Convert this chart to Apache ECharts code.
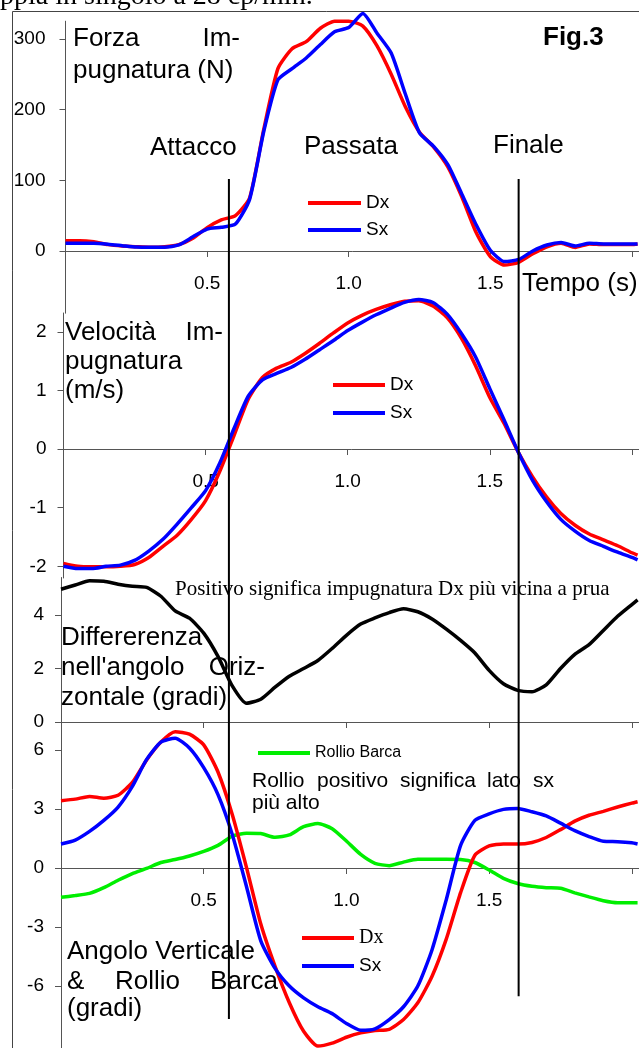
<!DOCTYPE html>
<html><head><meta charset="utf-8">
<script src="https://cdn.jsdelivr.net/npm/echarts@6/dist/echarts.min.js"></script>
<style>html,body{margin:0;padding:0;background:#fff;overflow:hidden}#c{width:639px;height:1048px}</style>
</head><body><div id="c"></div>
<script>
// ---- data ----
const time = [0,0.05,0.1,0.15,0.2,0.25,0.3,0.35,0.4,0.45,0.5,0.55,0.6,0.65,0.7,0.75,0.8,0.85,0.9,0.95,1.0,1.05,1.1,1.15,1.2,1.25,1.3,1.35,1.4,1.45,1.5,1.55,1.6,1.65,1.7,1.75,1.8,1.85,1.9,1.95,2.0,2.02];
const forceDx = [14.6,14.6,13,9,7,6,5.2,6,9,18,33,44,50,75,172,258,286,296,315,325,325,318,290,250,204,168,147,119,76,26,-8,-20,-16,-4,6,11,5,10,9,9,9,10];
const forceSx = [10.8,10.8,10.8,9.5,7.5,5.5,5.2,5.2,8.5,20,31,33.5,38,73,169,242,258,273,292,310,316,336,308,280,222,167,148,122,80,37,1,-15,-12,0,8.5,12,7,11,10,10,10,10];
const velDx = [-1.95,-2.0,-2.01,-2.01,-2.0,-1.97,-1.85,-1.66,-1.47,-1.2,-0.88,-0.38,0.23,0.85,1.22,1.38,1.48,1.63,1.80,1.98,2.15,2.28,2.38,2.46,2.52,2.53,2.44,2.24,1.89,1.42,0.88,0.44,-0.05,-0.47,-0.82,-1.1,-1.3,-1.45,-1.55,-1.65,-1.77,-1.81];
const velSx = [-2.0,-2.04,-2.04,-2.0,-1.98,-1.9,-1.74,-1.54,-1.28,-1.0,-0.71,-0.24,0.35,0.9,1.18,1.29,1.39,1.53,1.69,1.85,2.02,2.16,2.29,2.4,2.5,2.55,2.5,2.3,1.97,1.57,1.03,0.5,-0.05,-0.53,-0.9,-1.2,-1.4,-1.56,-1.66,-1.76,-1.85,-1.89];
const diffH = [4.96,5.12,5.28,5.26,5.15,5.07,5.03,4.7,4.15,3.88,3.32,2.45,1.35,0.7,0.85,1.3,1.71,2.0,2.3,2.75,3.24,3.66,3.89,4.09,4.23,4.12,3.85,3.47,3.05,2.58,1.93,1.43,1.18,1.13,1.39,2.0,2.53,2.89,3.42,3.95,4.39,4.56];
const angDx = [3.42,3.5,3.64,3.55,3.7,4.35,5.49,6.4,6.93,6.8,6.26,4.88,2.72,0.02,-2.85,-5.0,-6.85,-8.3,-9.05,-8.9,-8.6,-8.38,-8.26,-8.2,-7.7,-6.85,-5.5,-3.6,-1.25,0.65,1.12,1.22,1.22,1.3,1.55,1.95,2.38,2.68,2.88,3.1,3.3,3.37];
const angSx = [1.22,1.42,1.86,2.42,3.1,4.15,5.52,6.4,6.6,6.1,5.1,3.73,1.7,-0.95,-3.7,-5.1,-6.0,-6.6,-7.05,-7.4,-7.9,-8.25,-8.17,-7.7,-7.05,-6.0,-4.15,-1.6,1.15,2.42,2.75,2.98,3.03,2.86,2.65,2.28,1.9,1.6,1.36,1.34,1.28,1.22];
const rollBarca = [-1.49,-1.4,-1.29,-1.0,-0.62,-0.28,-0.02,0.28,0.43,0.61,0.84,1.15,1.62,1.77,1.75,1.56,1.68,2.1,2.26,2.0,1.37,0.69,0.24,0.12,0.3,0.44,0.44,0.44,0.43,0.28,-0.1,-0.53,-0.79,-0.93,-1.0,-1.03,-1.26,-1.47,-1.66,-1.76,-1.76,-1.76];

const forceTicks = [0,100,200,300];
const velTicks = [-2,-1,0,1,2];
const diffTicks = [0,2,4];
const angTicks = [-6,-3,0,3,6];
const timeTicks = [0.5,1.0,1.5,2.0];
const timeLabels = [0.5,1.0,1.5];
const phaseNames = ['Attacco','Finale'];
const phaseTimes = [0.577,1.6];
const phaseLineStart = [0,0.027];   // lower end of the phase lines (fraction of overlay height)

// ---- helpers ----
const SANS = "'Liberation Sans', Arial, sans-serif";
const SERIF = "'Liberation Serif', 'Times New Roman', serif";
const AX = '#555';
const pair = ys => time.map((t,i)=>[t, ys[i]]);

const grids = [
  {left:65.5, right:0, top:21.2, height:292},
  {left:63.5, right:0, top:313, height:265},
  {left:61, right:0, top:577.5, height:144.5},
  {left:61, right:0, top:722, height:330},
  {left:65.5, right:0, top:179, height:840}
].map(g=>Object.assign(g,{containLabel:false, outerBoundsMode:'none', show:false}));
const yRanges = [[-88,325],[-2.2,2.32],[0,5.4],[-9.35,7.42]];
// distance from grid bottom up to the zero line (x axis sits on y = 0)
const zeroShift = gi => { const g = grids[gi], r = yRanges[gi]; return -(g.height * (0 - r[0]) / (r[1]-r[0])); };

function xAx(gi, showLabels){
  return {type:'value', gridIndex:gi, min:0, max:2.025, position:'bottom', offset: zeroShift(gi),
    axisLine:{show:true, onZero:false, lineStyle:{color:AX, width:1}},
    axisTick:{show:true, inside:false, length:6, customValues:timeTicks, lineStyle:{color:AX}},
    axisLabel:{show:showLabels, customValues:timeLabels, formatter:v=>Number(v).toFixed(1),
      margin:23, color:'#000', fontSize:19, fontFamily:SANS},
    splitLine:{show:false}};
}
function yAx(gi, ticks, margin){
  return {type:'value', gridIndex:gi, min:yRanges[gi][0], max:yRanges[gi][1],
    axisLine:{show:true, onZero:false, lineStyle:{color:AX, width:1}},
    axisTick:{show:true, length:6, customValues:ticks, lineStyle:{color:AX}},
    axisLabel:{customValues:ticks, margin, color:'#000', fontSize:19, fontFamily:SANS},
    splitLine:{show:false}};
}
function ser(name, gi, ys, color, width){
  return {type:'line', name, xAxisIndex:gi, yAxisIndex:gi, data:pair(ys), symbol:'none', showSymbol:false,
    smooth:0.2, clip:false, lineStyle:{color, width}, itemStyle:{color}, z:3, silent:true};
}
function txt(text, x, baseline, o={}){
  const fs = o.size || 26;
  const font = (o.bold ? 'bold ' : '') + fs + 'px ' + (o.serif ? SERIF : SANS);
  const al = o.align || 'left';
  return {type:'text', z:20, silent:true,
    style:{text, x, y: baseline - 0.34*fs, font, fill:'#000',
      align:al, textAlign:al, verticalAlign:'middle', textVerticalAlign:'middle'}};
}

const legendText = {fontSize:19, fontFamily:SANS, color:'#000', lineHeight:20};
const legBase = {orient:'vertical', icon:'rect', itemHeight:4, padding:0, selectedMode:false, textStyle:legendText};

const option = {
  animation:false,
  backgroundColor:'#fff',
  grid: grids,
  xAxis:[xAx(0,true), xAx(1,true), xAx(2,false), xAx(3,true),
    {type:'value', gridIndex:4, min:0, max:2.025, show:false}],
  yAxis:[yAx(0,forceTicks,20), yAx(1,velTicks,17), yAx(2,diffTicks,17), yAx(3,angTicks,17),
    {type:'value', gridIndex:4, min:0, max:1, show:false}],
  legend:[
    Object.assign({}, legBase, {data:['Dx','Sx'], left:308, top:193, itemWidth:53, itemGap:7}),
    Object.assign({}, legBase, {data:['Dx','Sx'], left:333, top:375, itemWidth:52, itemGap:8}),
    Object.assign({}, legBase, {data:['Rollio Barca'], left:258, top:743, itemWidth:52,
      textStyle:{fontSize:16, fontFamily:SANS, color:'#000', lineHeight:20}}),
    Object.assign({}, legBase, {data:['Dx','Sx'], left:302, top:928, itemWidth:52, itemGap:8,
      formatter: n => n==='Dx' ? '{s|Dx}' : '{a|Sx}',
      textStyle:{color:'#000', lineHeight:20, rich:{
        s:{fontFamily:SERIF, fontSize:20, lineHeight:20, color:'#000'},
        a:{fontFamily:SANS, fontSize:19, lineHeight:20, color:'#000'}}}})
  ],
  series:[
    ser('Dx',0,forceDx,'#ff0000',3.5), ser('Sx',0,forceSx,'#0000ff',3.5),
    ser('Dx',1,velDx,'#ff0000',3.5), ser('Sx',1,velSx,'#0000ff',3.5),
    ser('Diff',2,diffH,'#000000',3.5),
    ser('Rollio Barca',3,rollBarca,'#00ee00',3.5),
    ser('Dx',3,angDx,'#ff0000',3.5), ser('Sx',3,angSx,'#0000ff',3.5)
  ].concat(phaseTimes.map((t,i)=>({type:'line', name:phaseNames[i], xAxisIndex:4, yAxisIndex:4,
      data:[[t,phaseLineStart[i]],[t,1]], symbol:'none', clip:false, silent:true,
      lineStyle:{color:'#000', width:2}, z:6}))),
  graphic:[
    {type:'rect', z:-5, silent:true, shape:{x:12.5, y:11.5, width:720, height:1100},
      style:{fill:'none', stroke:'#444', lineWidth:1}},
    txt('ppia in singolo a 28 cp/min.', 0, 6, {serif:true, size:28}),
    txt('Forza', 73, 48), txt('Im-', 240, 48, {align:'right'}), txt('pugnatura (N)', 73, 80),
    txt('Attacco', 150, 157), txt('Passata', 304, 156), txt('Finale', 493, 155),
    txt('Fig.3', 543, 47, {bold:true}),
    txt('Tempo (s)', 522, 293),
    txt('Velocità', 65, 342), txt('Im-', 223, 342, {align:'right'}), txt('pugnatura', 65, 371), txt('(m/s)', 65, 400),
    txt('Positivo significa impugnatura Dx più vicina a prua', 175, 597, {serif:true, size:21}),
    txt('Differerenza', 61, 647), txt("nell'angolo", 61, 677), txt('Oriz-', 265, 677, {align:'right'}),
    txt('zontale (gradi)', 61, 707),
    txt('Rollio', 252, 788, {size:21}), txt('positivo', 317, 788, {size:21}), txt('significa', 400, 788, {size:21}),
    txt('lato', 487, 788, {size:21}), txt('sx', 533, 788, {size:21}), txt('più alto', 252, 810, {size:21}),
    txt('Angolo Verticale', 67, 961), txt('&', 67, 991), txt('Rollio', 115, 991),
    txt('Barca', 278, 991, {align:'right'}), txt('(gradi)', 67, 1018)
  ]
};
const chart = echarts.init(document.getElementById('c'), null, {renderer:'canvas'});
chart.setOption(option);
</script>
</body></html>
